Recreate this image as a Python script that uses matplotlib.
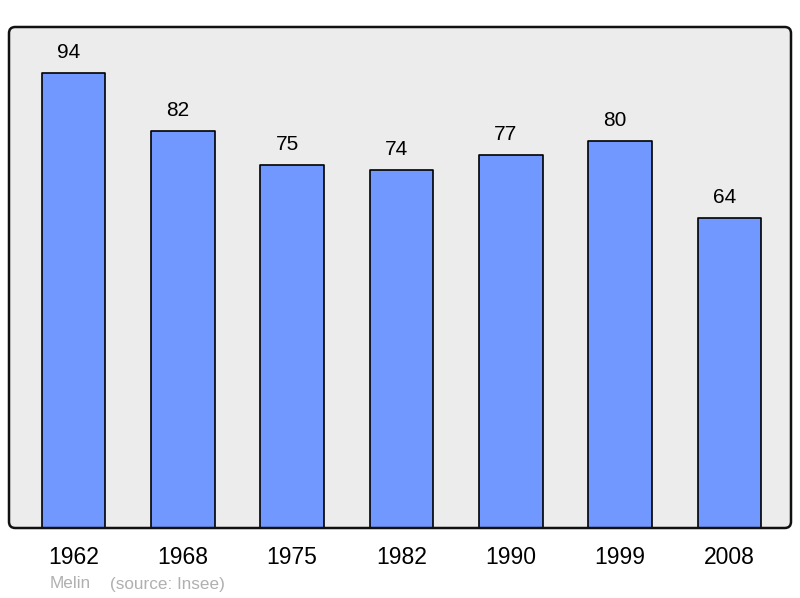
import matplotlib
matplotlib.use("Agg")
import matplotlib.pyplot as plt
from matplotlib.patches import FancyBboxPatch

years = ["1962", "1968", "1975", "1982", "1990", "1999", "2008"]
population = [94, 82, 75, 74, 77, 80, 64]

plt.rcParams['font.family'] = ['Liberation Sans', 'DejaVu Sans']

fig = plt.figure(figsize=(8, 5.98), dpi=100)
ax = fig.add_axes([9/800, 70/598, 782/800, 501/598])
ax.set_facecolor('none')

x = list(range(len(years)))
bars = ax.bar(x, population, width=0.58, color='#7098ff', edgecolor='black',
              linewidth=1.2, zorder=2)
for b in bars:
    b.set_joinstyle('round')

for xi, v in zip(x, population):
    ax.annotate(str(v), (xi, v), xytext=(-5, 15), textcoords='offset pixels',
                ha='center', va='baseline', fontsize=15, color='black')

ax.set_xlim(-0.59, 6.563)
ax.set_ylim(0, 103.5)
ax.set_xticks(x)
ax.set_xticklabels(years, fontsize=16.5)
ax.tick_params(axis='x', length=0, pad=13)
ax.set_yticks([])
for s in ax.spines.values():
    s.set_visible(False)

bg = FancyBboxPatch((0, 0), 1, 1, boxstyle='round,pad=0,rounding_size=0.008',
                    mutation_aspect=782/501, transform=ax.transAxes,
                    facecolor='#ececec', edgecolor='none', zorder=0, clip_on=False)
ax.add_patch(bg)
frame = FancyBboxPatch((0, 0), 1, 1, boxstyle='round,pad=0,rounding_size=0.008',
                       mutation_aspect=782/501, transform=ax.transAxes,
                       facecolor='none', edgecolor='#111111', linewidth=1.8,
                       zorder=3, clip_on=False)
ax.add_patch(frame)

fig.text(50/800, 1 - 584/598, "Melin", fontsize=12.3, color='#b0b0b0',
         ha='left', va='center')
fig.text(110/800, 1 - 584/598, "(source: Insee)", fontsize=12.3, color='#b0b0b0',
         ha='left', va='center')

fig.savefig('out.png', dpi=100)
